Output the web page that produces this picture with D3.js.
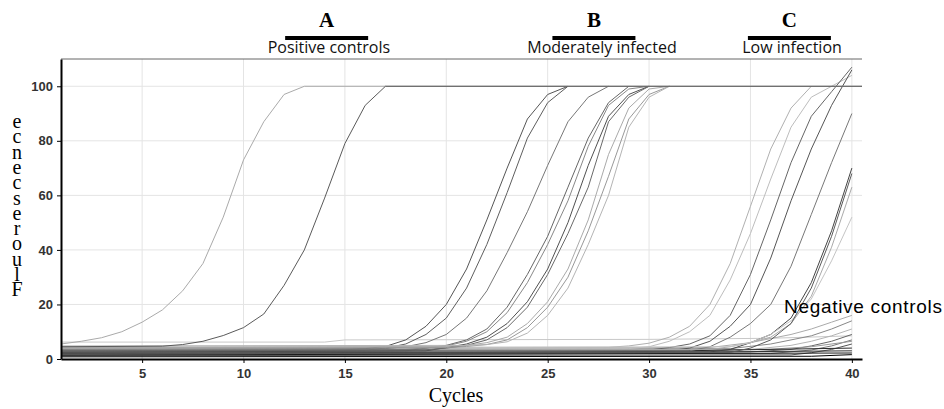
<!DOCTYPE html>
<html>
<head>
<meta charset="utf-8">
<script src="https://cdn.jsdelivr.net/npm/d3@7"></script>
<style>
  body { margin: 0; background: #fff; }
  svg { display: block; }
  .tick text { font-family: "Liberation Sans", Arial, sans-serif; font-weight: bold; font-size: 13px; fill: #333; }
</style>
</head>
<body>
<svg id="chart" width="944" height="409"></svg>
<script>
// ---- data ----
const xTicks = [5, 10, 15, 20, 25, 30, 35, 40];
const yTicks = [0, 20, 40, 60, 80, 100];
const yGrid = [20, 40, 60, 80, 100];

const groupLetters = ["A", "B", "C"];
const groupNames = ["Positive controls", "Moderately infected", "Low infection"];
const groupCenters = [14.1, 27.28, 36.92]; // cycle under each letter / bar
const nameCenters = [14.21, 27.68, 37.05]; // cycle under each group name

// each curve: [cycle, fluorescence] points
const positiveCurves = [
  [[1, 5.5], [2, 6.5], [3, 7.8], [4, 10], [5, 13.5], [6, 18], [7, 25], [8, 35], [9, 52], [10, 73], [11, 87], [12, 97], [13, 100], [40.5, 100]],
  [[1, 4.5], [6, 4.7], [7, 5.3], [8, 6.5], [9, 8.6], [10, 11.5], [11, 16.5], [12, 27], [13, 40], [14, 59], [15, 79], [16, 93], [17, 100], [40.5, 100]],
];

const moderateCurves = [
  [[1, 3.2], [15, 3.4], [16, 3.8], [17, 4.6], [18, 7], [19, 12], [20, 20], [21, 33], [22, 51], [23, 70], [24, 88], [25, 97], [26, 100]],
  [[1, 2.8], [16, 3.2], [17, 4], [18, 5.5], [19, 9], [20, 15], [21, 26], [22, 42], [23, 61], [24, 81], [25, 94], [26, 100]],
  [[1, 3.5], [17, 3.8], [18, 4.5], [19, 6], [20, 9], [21, 15], [22, 25], [23, 39], [24, 54], [25, 71], [26, 87], [27, 96], [28, 100]],
  [[1, 2.6], [18, 3], [19, 4], [20, 5], [21, 7], [22, 11], [23, 19], [24, 31], [25, 45], [26, 63], [27, 81], [28, 94], [29, 100]],
  [[1, 3.4], [18, 3.6], [19, 4], [20, 4.8], [21, 6.5], [22, 10], [23, 17], [24, 28], [25, 42], [26, 58], [27, 78], [28, 93], [29, 99], [30, 100]],
  [[1, 2.4], [19, 3], [20, 4.2], [21, 5.5], [22, 8], [23, 13], [24, 21], [25, 33], [26, 50], [27, 71], [28, 89], [29, 97], [30, 100]],
  [[1, 3], [19, 3.4], [20, 4], [21, 5], [22, 7], [23, 11.5], [24, 19], [25, 31], [26, 46], [27, 63], [28, 87], [29, 96], [30, 100]],
  [[1, 4.4], [20, 4.6], [21, 5], [22, 6], [23, 8], [24, 13], [25, 21], [26, 33], [27, 51], [28, 75], [29, 92], [30, 99], [31, 100]],
  [[1, 4], [20, 4.2], [21, 4.6], [22, 5.3], [23, 7], [24, 11.5], [25, 19], [26, 30], [27, 47], [28, 67], [29, 88], [30, 97], [31, 100]],
  [[1, 4.8], [21, 5], [22, 5.3], [23, 6.3], [24, 9.5], [25, 16], [26, 26], [27, 42], [28, 60], [29, 85], [30, 96], [31, 100]],
];

const lowCurves = [
  [[1, 4.2], [28, 4.3], [29, 4.8], [30, 5.8], [31, 8], [32, 12], [33, 20], [34, 35], [35, 56], [36, 77], [37, 92], [38, 100]],
  [[1, 3.6], [29, 3.8], [30, 4.5], [31, 6.5], [32, 10], [33, 16], [34, 29], [35, 46], [36, 66], [37, 85], [38, 96], [39, 100], [40, 104]],
  [[1, 3], [30, 3.3], [31, 4.2], [32, 5.5], [33, 8.5], [34, 16], [35, 31], [36, 51], [37, 72], [38, 89], [39, 98], [40, 107]],
  [[1, 2.6], [31, 3], [32, 4], [33, 6.5], [34, 12], [35, 20], [36, 37], [37, 58], [38, 77], [39, 93], [40, 106]],
  [[1, 2.4], [32, 3], [33, 4.5], [34, 8], [35, 13], [36, 20], [37, 34], [38, 53], [39, 72], [40, 90]],
  [[1, 2], [33, 2.6], [34, 3.5], [35, 6], [36, 9], [37, 15], [38, 28], [39, 47], [40, 70]],
  [[1, 3.2], [33, 3.5], [34, 4.5], [35, 6], [36, 8], [37, 13], [38, 23], [39, 41], [40, 63]],
  [[1, 4], [34, 4.5], [35, 6], [36, 9], [37, 14], [38, 22], [39, 36], [40, 52]],
  [[1, 1.8], [34, 2.4], [35, 4], [36, 7], [37, 13], [38, 26], [39, 45], [40, 68]],
];

const negativeCurves = [
  [[1, 6.2], [14, 6.2], [15, 7], [30, 7.2], [36, 7.6], [40, 8.5]],
  [[1, 3.8], [33, 4.2], [35, 6], [37, 9], [38, 11], [39, 13.5], [40, 16]],
  [[1, 3.4], [34, 3.8], [36, 5.5], [38, 8.5], [39, 11], [40, 14]],
  [[1, 3], [35, 3.5], [37, 5], [38, 6.5], [39, 8.5], [40, 11]],
  [[1, 2.2], [35, 2.6], [37, 3.5], [38, 4.8], [39, 6.5], [40, 9]],
  [[1, 1.6], [36, 2], [38, 3.3], [39, 4.8], [40, 7]],
  [[1, 1.2], [37, 1.5], [38, 2.3], [39, 3.5], [40, 5.5]],
  [[1, 2.8], [30, 3], [36, 3.6], [38, 4.5], [40, 6.5]],
  [[1, 1.9], [25, 2.1], [40, 3]],
  [[1, 2.5], [30, 2.8], [40, 4]],
  [[1, 1.4], [40, 2.2]],
  [[1, 0.8], [38, 1], [40, 1.6]],
];

const positiveColors = ["#aaa", "#5a5a5a"];
const moderateColors = ["#555", "#5e5e5e", "#777", "#666", "#888", "#505050", "#6a6a6a", "#aaa", "#999", "#b4b4b4"];
const lowColors = ["#b0b0b0", "#bdbdbd", "#666", "#555", "#777", "#444", "#aaa", "#c4c4c4", "#5a5a5a"];
const negativeColors = ["#c8c8c8", "#aaa", "#888", "#b4b4b4", "#666", "#777", "#555", "#999", "#333", "#2a2a2a", "#1a1a1a", "#000"];

// ---- layout ----
const svg = d3.select("#chart");
const x = d3.scaleLinear().domain([1, 40.5]).range([61, 862]);
const y = d3.scaleLinear().domain([0, 110]).range([359, 59]);

// grid
svg.append("g")
  .selectAll("line")
  .data(xTicks)
  .join("line")
  .attr("x1", (d) => x(d)).attr("x2", (d) => x(d))
  .attr("y1", y(110)).attr("y2", y(0))
  .attr("stroke", "#e4e4e4");

svg.append("g")
  .selectAll("line")
  .data(yGrid)
  .join("line")
  .attr("x1", x(1)).attr("x2", x(40.5))
  .attr("y1", (d) => y(d)).attr("y2", (d) => y(d))
  .attr("stroke", "#e4e4e4");

// top frame
svg.append("line")
  .attr("x1", x(1)).attr("x2", x(40.5))
  .attr("y1", y(110)).attr("y2", y(110))
  .attr("stroke", "#666");

// curves
const line = d3.line((d) => x(d[0]), (d) => y(d[1]));

function drawCurves(cls, curves, colors) {
  svg.append("g")
    .attr("class", cls)
    .selectAll("path")
    .data(curves)
    .join("path")
    .attr("d", line)
    .attr("fill", "none")
    .attr("stroke", (d, i) => colors[i])
    .attr("stroke-width", 1);
}

drawCurves("negative", negativeCurves, negativeColors);
drawCurves("low", lowCurves, lowColors);
drawCurves("moderate", moderateCurves, moderateColors);
drawCurves("positive", positiveCurves, positiveColors);

// axes
const yAxis = d3.axisLeft(y).tickValues(yTicks).tickSize(4).tickSizeOuter(0).tickPadding(4);
const xAxis = d3.axisBottom(x).tickValues(xTicks).tickSize(4).tickSizeOuter(0).tickPadding(6);

const gy = svg.append("g").attr("transform", `translate(${x(1)},0)`).call(yAxis);
const gx = svg.append("g").attr("transform", `translate(0,${y(0)})`).call(xAxis);
[gx, gy].forEach((g) => {
  g.select(".domain").attr("stroke", "#000").attr("stroke-width", 2);
  g.selectAll(".tick line").attr("stroke", "#000");
});

// axis titles
svg.append("text")
  .attr("x", 456)
  .attr("y", 402)
  .attr("text-anchor", "middle")
  .style("font-family", "'Liberation Serif', 'Times New Roman', serif")
  .style("font-size", "20px")
  .text("Cycles");

// stacked, upright letters: "Fluorescence" read bottom to top
svg.append("text")
  .attr("x", 17)
  .attr("y", 110)
  .style("writing-mode", "vertical-rl")
  .style("text-orientation", "upright")
  .style("font-family", "'Liberation Serif', 'Times New Roman', serif")
  .style("font-size", "20px")
  .style("letter-spacing", "-6.7px")
  .text("Fluorescence".split("").reverse().join(""));

// group labels above the plot
const groups = svg.append("g")
  .selectAll("g")
  .data(groupLetters)
  .join("g")
  .attr("transform", (d, i) => `translate(${x(groupCenters[i])},0)`);

groups.append("text")
  .attr("y", 27)
  .attr("text-anchor", "middle")
  .style("font-family", "'Liberation Serif', 'Times New Roman', serif")
  .style("font-weight", "bold")
  .style("font-size", "21px")
  .text((d) => d);

groups.append("rect")
  .attr("x", -41.5)
  .attr("y", 36)
  .attr("width", 83)
  .attr("height", 4)
  .attr("fill", "#000");

svg.append("g")
  .selectAll("text")
  .data(groupNames)
  .join("text")
  .attr("x", (d, i) => x(nameCenters[i]))
  .attr("y", 53)
  .attr("text-anchor", "middle")
  .style("font-family", "'Open Sans', sans-serif")
  .style("font-size", "16px")
  .style("fill", "#111")
  .text((d) => d);

svg.append("text")
  .attr("x", 784)
  .attr("y", 313)
  .style("font-family", "'Liberation Sans', Arial, sans-serif")
  .style("font-size", "19px")
  .style("letter-spacing", "0.7px")
  .text("Negative controls");
</script>
</body>
</html>
